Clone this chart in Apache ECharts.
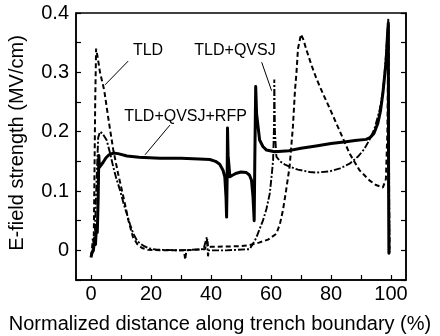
<!DOCTYPE html>
<html>
<head>
<meta charset="utf-8">
<script src="https://cdn.jsdelivr.net/npm/echarts@6/dist/echarts.min.js"></script>
<style>
  html, body { margin: 0; padding: 0; background: #fff; }
  #chart { width: 440px; height: 336px; }
</style>
</head>
<body>
<div id="chart"></div>
<script>
// E-field along the trench boundary for three termination variants
const FONT = 'Liberation Sans, Arial, sans-serif';

// Tick positions
const xTickValues = [0, 10, 20, 30, 40, 50, 60, 70, 80, 90, 100];
const xLabelValues = [0, 20, 40, 60, 80, 100];
const yTickValues = [-0.05, 0, 0.05, 0.1, 0.15, 0.2, 0.25, 0.3, 0.35, 0.4];
const yLabelValues = [0, 0.1, 0.2, 0.3, 0.4];

// TLD (dashed)
const tld = [
  [0, -0.01], [0.3, 0.0], [0.6, 0.02], [0.9, 0.01], [1.1, 0.1], [1.4, 0.25],
  [1.7, 0.34], [2.2, 0.326], [3, 0.3], [4.4, 0.27], [6, 0.215], [7.4, 0.17],
  [9, 0.13], [10.8, 0.09], [12.5, 0.05], [14, 0.022], [15.5, 0.01], [17, 0.004],
  [19, 0.001], [25, 0], [31, 0], [31.4, -0.016], [31.8, 0], [38, 0.002],
  [38.8, 0.02], [39, 0.005], [40, 0.006], [50, 0.007], [53, 0.009], [56, 0.013],
  [59, 0.018], [61.8, 0.028], [63, 0.045], [64, 0.068], [65, 0.1], [66.2, 0.141],
  [67.3, 0.208], [68, 0.27], [68.5, 0.3], [69, 0.34], [70, 0.364], [70.8, 0.355],
  [71.8, 0.338], [73.5, 0.312], [75.1, 0.29], [77.5, 0.262], [79.5, 0.24],
  [83, 0.2], [86.2, 0.163], [89.5, 0.135], [92.8, 0.118], [95, 0.11],
  [97.3, 0.106], [98.3, 0.12], [98.8, 0.2], [99, 0.3], [99.2, 0.38],
  [99.3, 0.1], [99.5, 0.0]
];

// TLD+QVSJ (dash-dot)
const tldQvsj = [
  [0, -0.01], [0.5, 0], [1, 0.01], [1.3, 0.03], [1.6, 0.08], [1.9, 0.124],
  [2.4, 0.19], [3, 0.2], [3.8, 0.197], [5.2, 0.186], [6.3, 0.165], [7.4, 0.141],
  [8.5, 0.12], [9.7, 0.101], [10.8, 0.08], [11.9, 0.062], [13, 0.044],
  [14.1, 0.028], [15.5, 0.015], [17.4, 0.008], [19.5, 0.003], [22, 0.001],
  [30, 0], [37.5, 0.002], [38.6, 0.022], [39, -0.01], [39.3, 0], [45, 0],
  [52.9, 0.002], [55, 0.02], [57.3, 0.05], [58.5, 0.07], [59.6, 0.096],
  [60.3, 0.13], [60.7, 0.152], [61, 0.208], [61.1, 0.288], [61.3, 0.2],
  [61.8, 0.158], [63, 0.15], [64.5, 0.145], [66.2, 0.141], [69, 0.136],
  [72.9, 0.132], [75.1, 0.131], [79.5, 0.133], [83, 0.138], [86.2, 0.146],
  [89, 0.158], [91, 0.17], [92.8, 0.186], [94.5, 0.205], [96.2, 0.236],
  [97.2, 0.265], [97.8, 0.293], [98.6, 0.349], [99.1, 0.39], [99.3, 0.2],
  [99.5, 0.0]
];

// TLD+QVSJ+RFP (solid)
const tldQvsjRfp = [
  [0, -0.012], [0.3, -0.005], [0.8, 0.0], [1.2, 0.02], [1.5, 0.01], [1.8, 0.04],
  [2.1, 0.03], [2.4, 0.09], [2.6, 0.16], [2.8, 0.14], [3.2, 0.14], [4, 0.148],
  [5, 0.156], [6, 0.161], [7.4, 0.164], [9, 0.163], [12, 0.159], [16, 0.157],
  [23, 0.155], [30, 0.155], [36, 0.154], [39.6, 0.153], [41.5, 0.15],
  [42.9, 0.145], [44, 0.135], [44.6, 0.124], [45.0, 0.09], [45.2, 0.056],
  [45.4, 0.13], [45.5, 0.206], [45.7, 0.16], [46.3, 0.124], [47.3, 0.127],
  [48.5, 0.13], [50, 0.132], [51.8, 0.131], [52.8, 0.127], [53.5, 0.118],
  [54.0, 0.09], [54.4, 0.05], [54.6, 0.15], [54.9, 0.276], [55.2, 0.23],
  [56.2, 0.186], [57.3, 0.175], [58.5, 0.169], [61.2, 0.166], [66, 0.168],
  [70, 0.172], [75, 0.176], [80, 0.18], [85, 0.183], [88, 0.185], [91.7, 0.187],
  [93, 0.19], [94.3, 0.197], [95.6, 0.214], [96.5, 0.235], [97.3, 0.265],
  [98, 0.3], [98.4, 0.321], [98.8, 0.36], [99.1, 0.383], [99.2, 0.1],
  [99.3, -0.005], [99.5, 0]
];

// Curve labels: text anchor and leader line (start -> end) in data units
const curveLabels = [
  { text: 'TLD', at: [19, 0.336], from: [12.4, 0.319], to: [4.7, 0.279] },
  { text: 'TLD+QVSJ', at: [48, 0.336], from: [56.9, 0.317], to: [60.2, 0.269] },
  { text: 'TLD+QVSJ+RFP', at: [31.5, 0.226], from: [26.3, 0.211], to: [18, 0.161] }
];

const xTitle = 'Normalized distance along trench boundary (%)';
const yTitle = 'E-field strength (MV/cm)';

const chart = echarts.init(document.getElementById('chart'), null, { renderer: 'canvas' });

const lineBase = { type: 'line', showSymbol: false, symbol: 'none', smooth: false, animation: false, z: 3 };

const leaderSeries = curveLabels.map(l => ({
  type: 'line', data: [l.from, l.to], showSymbol: false, symbol: 'none',
  lineStyle: { color: '#000', width: 1 }, animation: false, silent: true, z: 4
}));

chart.setOption({
  animation: false,
  backgroundColor: '#fff',
  grid: { left: 76, right: 34, top: 13, bottom: 56, show: true, borderColor: '#000', borderWidth: 1.5, backgroundColor: 'transparent' },
  xAxis: {
    type: 'value', min: -5, max: 105,
    axisLine: { show: true, onZero: false, lineStyle: { color: '#000', width: 1.5 } },
    axisTick: { show: true, inside: true, length: 5, customValues: xTickValues, lineStyle: { color: '#000', width: 1.2 } },
    axisLabel: { customValues: xLabelValues, color: '#000', fontFamily: FONT, fontSize: 20, margin: 4 },
    splitLine: { show: false }
  },
  yAxis: [{
    type: 'value', min: -0.05, max: 0.4, position: 'left',
    axisLine: { show: true, onZero: false, lineStyle: { color: '#000', width: 1.5 } },
    axisTick: { show: true, inside: true, length: 5, customValues: yTickValues, lineStyle: { color: '#000', width: 1.2 } },
    axisLabel: { customValues: yLabelValues, color: '#000', fontFamily: FONT, fontSize: 20, margin: 7,
      formatter: v => (Math.abs(v) < 1e-9 ? '0' : String(+v.toFixed(2))) },
    splitLine: { show: false }
  }, {
    type: 'value', min: -0.05, max: 0.4, position: 'right',
    axisLine: { show: true, onZero: false, lineStyle: { color: '#000', width: 1.5 } },
    axisTick: { show: true, inside: true, length: 5, customValues: yTickValues, lineStyle: { color: '#000', width: 1.2 } },
    axisLabel: { show: false },
    splitLine: { show: false }
  }],
  series: [
    Object.assign({}, lineBase, { name: 'TLD', data: tld, lineStyle: { color: '#000', width: 2, type: [5, 3] } }),
    Object.assign({}, lineBase, { name: 'TLD+QVSJ', data: tldQvsj, lineStyle: { color: '#000', width: 1.9, type: [7, 2, 2, 2] } }),
    Object.assign({}, lineBase, { name: 'TLD+QVSJ+RFP', data: tldQvsjRfp, lineStyle: { color: '#000', width: 3, join: 'round' } })
  ].concat(leaderSeries)
});

// Curve labels and axis titles placed through the chart's coordinate system
const texts = curveLabels.map(l => {
  const p = chart.convertToPixel({ gridIndex: 0 }, l.at);
  return { type: 'text', x: p[0], y: p[1], style: { text: l.text, fill: '#000', font: '16px ' + FONT, textAlign: 'center', textVerticalAlign: 'middle' }, z: 10 };
});
texts.push({ type: 'text', x: 220, y: 324, style: { text: xTitle, fill: '#000', font: '20px ' + FONT, textAlign: 'center', textVerticalAlign: 'middle' }, z: 10 });
texts.push({ type: 'text', x: 17, y: 143, rotation: Math.PI / 2, style: { text: yTitle, fill: '#000', font: '20px ' + FONT, textAlign: 'center', textVerticalAlign: 'middle' }, z: 10 });
chart.setOption({ graphic: texts });
</script>
</body>
</html>
